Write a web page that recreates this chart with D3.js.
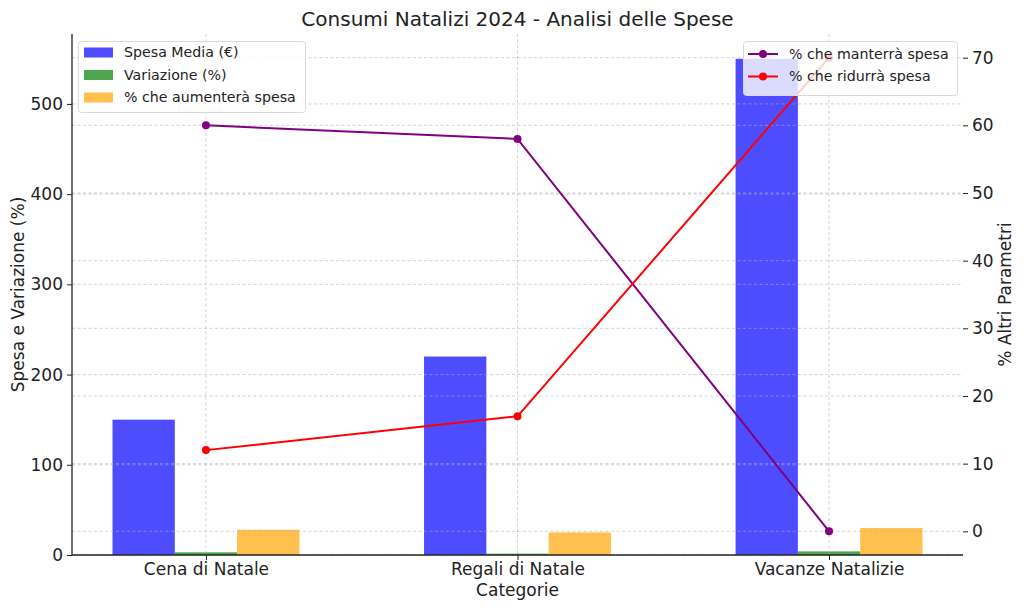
<!DOCTYPE html>
<html><head><meta charset="utf-8">
<script src="https://cdn.jsdelivr.net/npm/d3@7"></script>
<style>body{margin:0;background:#fff;} text{font-family:"DejaVu Sans",sans-serif;fill:#222;}</style>
</head><body>
<svg id="c" width="1024" height="610"></svg>
<script>
const categories = ["Cena di Natale", "Regali di Natale", "Vacanze Natalizie"];
const spesaMedia = [150, 220, 550];
const variazione = [3, 1.5, 4];
const aumentera = [28, 25, 30];
const manterra = [60, 58, 0];
const ridurra = [12, 17, 70];
const leftTicks = [0, 100, 200, 300, 400, 500];
const rightTicks = [0, 10, 20, 30, 40, 50, 60, 70];

const svg = d3.select("#c");
const L = 72, R = 963, T = 34, B = 555;
const x = d3.scaleLinear().domain([-0.43, 2.43]).range([L, R]);
const y1 = d3.scaleLinear().domain([0, 577.5]).range([B, T]);
const y2 = d3.scaleLinear().domain([-3.5, 73.5]).range([B, T]);
const bw = 0.2;
const gridStyle = g => g.attr("stroke", "#b0b0b0").attr("stroke-opacity", 0.7).attr("stroke-width", 0.8).attr("stroke-dasharray", "3,2.5");

// bars
const barSeries = [
  {vals: spesaMedia, off: -bw, color: "#4d4dff", name: "Spesa Media (€)"},
  {vals: variazione, off: 0, color: "#4da64d", name: "Variazione (%)"},
  {vals: aumentera, off: bw, color: "#ffc04d", name: "% che aumenterà spesa"}
];
barSeries.forEach(s => {
  svg.append("g").selectAll("rect").data(s.vals).join("rect")
    .attr("x", (d, i) => x(i + s.off - bw / 2))
    .attr("width", (d, i) => x(i + s.off + bw / 2) - x(i + s.off - bw / 2))
    .attr("y", d => y1(d)).attr("height", d => B - y1(d))
    .attr("fill", s.color);
});

// grids
const gg = svg.append("g");
gg.selectAll("line.h1").data(leftTicks).join("line").attr("class", "h1")
  .attr("x1", L).attr("x2", R).attr("y1", d => y1(d)).attr("y2", d => y1(d)).call(gridStyle);
gg.selectAll("line.h2").data(rightTicks).join("line").attr("class", "h2")
  .attr("x1", L).attr("x2", R).attr("y1", d => y2(d)).attr("y2", d => y2(d)).call(gridStyle);
gg.selectAll("line.v").data(categories).join("line").attr("class", "v")
  .attr("x1", (d, i) => x(i)).attr("x2", (d, i) => x(i)).attr("y1", T).attr("y2", B).call(gridStyle);

// axes
const axL = svg.append("g").attr("transform", `translate(${L},0)`)
  .call(d3.axisLeft(y1).tickValues(leftTicks).tickSize(5).tickPadding(4));
const axR = svg.append("g").attr("transform", `translate(${R},0)`)
  .call(d3.axisRight(y2).tickValues(rightTicks).tickSize(5).tickPadding(4));
const axB = svg.append("g").attr("transform", `translate(0,${B})`)
  .call(d3.axisBottom(x).tickValues([0, 1, 2]).tickFormat(i => categories[i]).tickSize(5).tickPadding(3));
[axL, axR, axB].forEach(a => {
  a.selectAll("text").attr("font-size", 17).attr("fill", "#222").attr("font-family", "DejaVu Sans");
  a.selectAll(".tick line").attr("stroke", "#222").attr("stroke-width", 1);
});
axL.select(".domain").attr("stroke", "#222").attr("stroke-width", 1.3).attr("d", `M0,${T}V${B}`);
axB.select(".domain").attr("stroke", "#222").attr("stroke-width", 1.3).attr("d", `M${L},0H${R}`);
axR.select(".domain").remove();

// lines
const lineSeries = [
  {vals: manterra, color: "#800080", name: "% che manterrà spesa"},
  {vals: ridurra, color: "#ff0000", name: "% che ridurrà spesa"}
];
const lineGen = d3.line().x((d, i) => x(i)).y(d => y2(d));
lineSeries.forEach(s => {
  svg.append("path").datum(s.vals).attr("d", lineGen).attr("fill", "none")
    .attr("stroke", s.color).attr("stroke-width", 2);
  svg.append("g").selectAll("circle").data(s.vals).join("circle")
    .attr("cx", (d, i) => x(i)).attr("cy", d => y2(d)).attr("r", 4).attr("fill", s.color);
});

// legend left
const lg1 = svg.append("g");
lg1.append("rect").attr("x", 78.5).attr("y", 41.5).attr("width", 227).attr("height", 71).attr("rx", 3)
  .attr("fill", "#fff").attr("fill-opacity", 0.8).attr("stroke", "#d9d9d9");
barSeries.forEach((s, i) => {
  const cy = 52.5 + i * 22.5;
  lg1.append("rect").attr("x", 84).attr("y", cy - 5).attr("width", 29).attr("height", 10).attr("fill", s.color);
  lg1.append("text").attr("x", 124).attr("y", cy).attr("dy", "0.35em").attr("font-size", 14.2).text(s.name);
});
// legend right
const lg2 = svg.append("g");
lg2.append("rect").attr("x", 743.5).attr("y", 41.5).attr("width", 214).attr("height", 54).attr("rx", 3)
  .attr("fill", "#fff").attr("fill-opacity", 0.8).attr("stroke", "#d9d9d9");
lineSeries.forEach((s, i) => {
  const cy = 54 + i * 22.5;
  lg2.append("line").attr("x1", 748).attr("x2", 778).attr("y1", cy).attr("y2", cy).attr("stroke", s.color).attr("stroke-width", 2);
  lg2.append("circle").attr("cx", 763).attr("cy", cy).attr("r", 4).attr("fill", s.color);
  lg2.append("text").attr("x", 789).attr("y", cy).attr("dy", "0.35em").attr("font-size", 14.2).text(s.name);
});

// labels
svg.append("text").attr("x", (L + R) / 2).attr("y", 26).attr("text-anchor", "middle").attr("font-size", 20)
  .text("Consumi Natalizi 2024 - Analisi delle Spese");
svg.append("text").attr("x", (L + R) / 2).attr("y", 596).attr("text-anchor", "middle").attr("font-size", 17).text("Categorie");
svg.append("text").attr("transform", `translate(24,${(T + B) / 2}) rotate(-90)`).attr("text-anchor", "middle").attr("font-size", 17)
  .text("Spesa e Variazione (%)");
svg.append("text").attr("transform", `translate(1011,${(T + B) / 2}) rotate(-90)`).attr("text-anchor", "middle").attr("font-size", 17)
  .text("% Altri Parametri");
</script>
</body></html>
